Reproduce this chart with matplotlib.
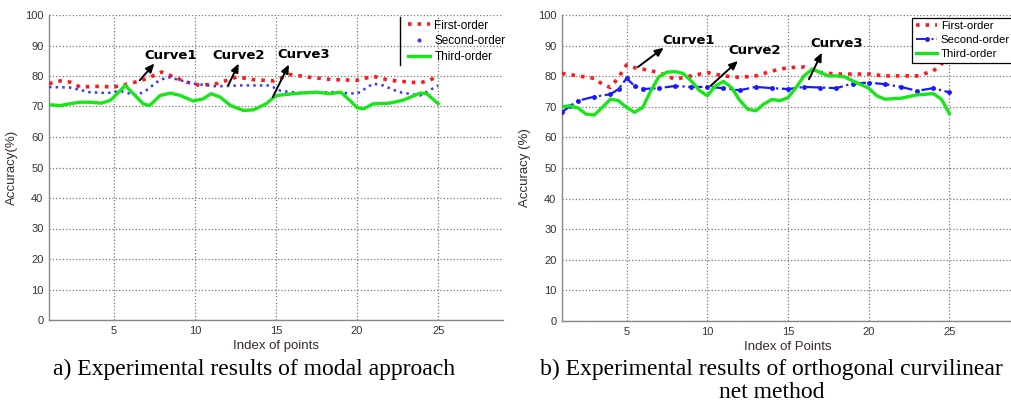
import matplotlib
matplotlib.use("Agg")
import matplotlib.pyplot as plt
from matplotlib.lines import Line2D

# ---------------- data: panel a (modal approach) ----------------
a_first_x = [1.0, 1.7, 2.3, 2.9, 4.1, 5.0, 6.0, 7.0, 7.95, 8.7, 9.5, 10.3, 11.35, 12.6, 13.6, 14.85,
             15.9, 16.9, 18.5, 20.0, 21.0, 22.0, 23.9, 25.0]
a_first_y = [77.5, 78.4, 78.0, 76.4, 76.6, 76.4, 77.5, 79.1, 81.3, 79.7, 78.0, 76.9, 77.5, 79.7, 78.8, 78.4,
             80.5, 79.7, 78.8, 78.6, 79.9, 78.6, 77.7, 79.7]

a_second_x = [1.0, 2.3, 3.5, 4.6, 5.4, 6.4, 7.0, 7.65, 8.3, 9.1, 9.9, 11.35, 12.8, 14.0, 14.6, 15.3,
              16.5, 18.5, 20.0, 21.0, 21.6, 22.6, 23.9, 25.0]
a_second_y = [76.4, 76.2, 74.7, 74.4, 75.1, 73.6, 75.3, 78.0, 79.7, 78.6, 77.5, 76.6, 76.9, 76.9, 76.9, 75.1,
              74.4, 74.7, 74.2, 77.5, 76.9, 74.7, 73.6, 76.9]

a_third_x = [1.0, 1.7, 2.3, 2.9, 3.5, 4.25, 4.77, 5.0, 5.7, 6.2, 6.8, 7.2, 7.85, 8.5, 9.1, 9.9, 10.5, 11.0,
             11.55, 12.2, 13.0, 13.6, 14.4, 15.0, 16.5, 17.5, 18.3, 19.0, 19.6, 20.0, 20.4, 21.0, 22.0,
             22.8, 23.9, 24.3, 25.0]
a_third_y = [70.6, 70.3, 70.9, 71.4, 71.4, 71.1, 72.0, 73.1, 76.9, 74.2, 70.9, 70.3, 73.6, 74.4, 73.6, 71.8,
             72.5, 74.2, 73.1, 70.3, 68.7, 68.9, 70.9, 73.6, 74.4, 74.7, 74.2, 74.7, 71.8, 69.6, 69.2,
             70.9, 71.1, 72.0, 74.4, 74.2, 70.9]

# ---------------- data: panel b (orthogonal curvilinear net) ----------------
b_first_x = [1, 2, 3, 3.5, 4, 4.5, 5, 5.5, 6, 7, 8, 9, 10, 11, 12, 13, 14, 15, 16, 17, 18, 19, 20,
             21, 22, 23, 24, 24.5, 25]
b_first_y = [80.9, 80.1, 79.3, 77.4, 76.3, 79.6, 83.7, 82.8, 82.3, 81.2, 79.0, 80.1, 81.2, 80.1, 79.6,
             80.1, 81.7, 82.8, 83.0, 81.2, 80.7, 80.7, 80.7, 80.1, 80.1, 80.1, 81.7, 84.0, 86.0]

b_second_x = [1, 1.5, 2, 3, 4, 4.5, 5, 5.5, 6, 7, 8, 9, 10, 11, 12, 13, 14, 15, 16, 17, 18, 19, 20,
              21, 22, 23, 24, 25]
b_second_y = [68.2, 70.3, 72.0, 73.3, 74.1, 75.8, 79.3, 76.8, 75.8, 76.1, 76.8, 76.5, 76.5, 76.1, 75.4,
              76.5, 76.1, 75.8, 76.5, 76.3, 76.1, 77.6, 77.9, 77.4, 76.5, 75.2, 76.1, 74.7]

b_third_x = [1, 1.5, 2, 2.5, 3, 3.5, 4, 4.5, 5, 5.5, 6, 6.5, 7, 7.5, 8, 8.5, 9, 9.5, 10, 10.5, 11,
             11.5, 12, 12.5, 13, 13.5, 14, 14.5, 15, 15.5, 16, 16.5, 17, 17.5, 18, 18.5, 19, 20,
             20.5, 21, 22, 23, 24, 24.5, 25]
b_third_y = [70.0, 70.3, 69.6, 67.6, 67.3, 69.8, 72.5, 72.0, 69.8, 68.2, 69.8, 75.2, 79.8, 81.3, 81.5,
             80.9, 78.5, 75.4, 73.6, 76.8, 78.3, 76.3, 72.2, 69.2, 68.7, 70.9, 72.4, 72.0, 73.0, 76.3,
             80.1, 82.3, 81.2, 80.1, 80.1, 79.8, 78.5, 76.1, 73.6, 72.5, 72.8, 73.9, 74.3, 72.5, 67.8]

legend_labels = ["First-order", "Second-order", "Third-order"]
x_ticks = [5, 10, 15, 20, 25]
y_ticks = [0, 10, 20, 30, 40, 50, 60, 70, 80, 90, 100]

# annotations: (text, text_xy, arrow_tail_xy, arrow_head_xy)
a_notes = [("Curve1", (6.9, 86.8), (6.6, 78.6), (7.5, 84.1)),
           ("Curve2", (11.1, 86.8), (12.05, 76.9), (12.7, 84.1)),
           ("Curve3", (15.1, 87.2), (14.8, 73.1), (15.8, 83.8))]
b_notes = [("Curve1", (7.2, 91.7), (5.7, 83.0), (7.3, 89.3)),
           ("Curve2", (11.3, 88.3), (10.2, 76.8), (11.9, 85.0)),
           ("Curve3", (16.4, 90.7), (16.3, 79.0), (17.1, 87.7))]

RED = "#ff1a1a"
BLUE = "#1a1aff"
GREEN = "#19e619"

fig = plt.figure(figsize=(10.12, 4.04), dpi=100)
ax_a = fig.add_axes([49 / 1012, 84 / 404, 454 / 1012, 305 / 404])
ax_b = fig.add_axes([562 / 1012, 83 / 404, 452 / 1012, 306 / 404])


def style_axes(ax, xlabel, ylabel):
    ax.set_xlim(1, 29)
    ax.set_ylim(0, 100)
    ax.set_xticks(x_ticks)
    ax.set_yticks(y_ticks)
    ax.grid(True, linestyle=":", color="#777777", linewidth=0.9)
    ax.set_axisbelow(True)
    for s in ["top", "right"]:
        ax.spines[s].set_visible(False)
    for s in ["left", "bottom"]:
        ax.spines[s].set_color("#888888")
        ax.spines[s].set_linewidth(1.0)
    ax.tick_params(axis="both", length=0, pad=4, labelsize=8, labelcolor="#333333")
    for lab in ax.get_xticklabels() + ax.get_yticklabels():
        lab.set_fontfamily("Liberation Sans")
    ax.set_xlabel(xlabel, fontsize=9.5, family="Liberation Sans", color="#3a2a2a")
    ax.xaxis.set_label_coords(0.5, -0.065)
    ax.set_ylabel(ylabel, fontsize=9.5, family="Liberation Sans", color="#3a2a2a")
    ax.yaxis.set_label_coords(-0.068, 0.5)


def add_notes(ax, notes):
    for text, txy, tail, head in notes:
        ax.text(txy[0], txy[1], text, fontsize=9.5, fontweight="bold", family="DejaVu Sans",
                ha="left", va="center", color="black", zorder=6)
        ax.annotate("", xy=head, xytext=tail,
                    arrowprops=dict(arrowstyle="-|>,head_length=0.5,head_width=0.22",
                                    color="black", lw=1.4, shrinkA=0, shrinkB=0), zorder=6)


# ---- panel a ----
ax_a.plot(a_first_x, a_first_y, linestyle=":", color=RED, linewidth=2.6, zorder=3)
ax_a.plot(a_second_x, a_second_y, linestyle=":", color="#3a3aff", linewidth=1.8, zorder=3)
ax_a.plot(a_third_x, a_third_y, linestyle="-", color=GREEN, linewidth=2.4, zorder=4)
style_axes(ax_a, "Index of points", "Accuracy(%)")
add_notes(ax_a, a_notes)
handles_a = [Line2D([], [], linestyle=":", color=RED, linewidth=2.6),
             Line2D([], [], linestyle="none", marker=".", markersize=4, color="#3a3aff"),
             Line2D([], [], linestyle="-", color=GREEN, linewidth=2.4)]
leg_a = ax_a.legend(handles_a, legend_labels, loc="upper left", bbox_to_anchor=(0.772, 1.012),
                    frameon=False, handlelength=1.9, handletextpad=0.35,
                    labelspacing=0.3, borderpad=0.2, prop={"family": "Liberation Sans", "size": 8.5})
ax_a.add_line(Line2D([0.773, 0.773], [0.835, 0.995], transform=ax_a.transAxes, color="black",
                     linewidth=1.0, zorder=7))

# ---- panel b ----
ax_b.plot(b_first_x, b_first_y, linestyle=":", color=RED, linewidth=2.6, zorder=3)
ax_b.plot(b_second_x, b_second_y, linestyle="-.", color=BLUE, linewidth=1.6, marker=".",
          markersize=5, zorder=3)
ax_b.plot(b_third_x, b_third_y, linestyle="-", color=GREEN, linewidth=2.4, zorder=4)
style_axes(ax_b, "Index of Points", "Accuracy (%)")
add_notes(ax_b, b_notes)
handles_b = [Line2D([], [], linestyle=":", color=RED, linewidth=2.6),
             Line2D([], [], linestyle="-.", color=BLUE, linewidth=1.4, marker=".", markersize=5),
             Line2D([], [], linestyle="-", color=GREEN, linewidth=2.4)]
leg_b = ax_b.legend(handles_b, legend_labels, loc="upper left", bbox_to_anchor=(0.775, 0.99),
                    frameon=True, fancybox=False, framealpha=1.0, edgecolor="black",
                    handlelength=1.9, handletextpad=0.3, labelspacing=0.35, borderpad=0.3,
                    borderaxespad=0.0, prop={"family": "Liberation Sans", "size": 8.2})
leg_b.get_frame().set_linewidth(0.9)
leg_b.set_zorder(8)

# ---- captions ----
fig.text(254 / 1012, 1 - 369 / 404, "a) Experimental results of modal approach",
         ha="center", va="center", fontsize=17, family="Liberation Serif")
fig.text(771 / 1012, 1 - 369 / 404, "b) Experimental results of orthogonal curvilinear",
         ha="center", va="center", fontsize=17, family="Liberation Serif")
fig.text(772 / 1012, 1 - 393 / 404, "net method",
         ha="center", va="center", fontsize=17, family="Liberation Serif")

fig.savefig("out.png", dpi=100)
